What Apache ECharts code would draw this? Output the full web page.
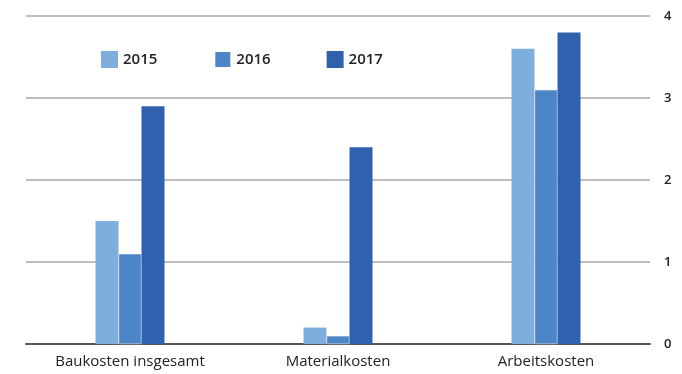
<!DOCTYPE html>
<html>
<head>
<meta charset="utf-8">
<script src="https://cdn.jsdelivr.net/npm/echarts@6/dist/echarts.min.js"></script>
<style>
  html, body { margin: 0; padding: 0; background: #fff; }
  #chart { width: 682px; height: 374px; }
</style>
</head>
<body>
<div id="chart"></div>
<script>
const categories = ['Baukosten insgesamt', 'Materialkosten', 'Arbeitskosten'];
const years = ['2015', '2016', '2017'];
const values2015 = [1.5, 0.2, 3.6];
const values2016 = [1.1, 0.1, 3.1];
const values2017 = [2.9, 2.4, 3.8];
const yTicks = [0, 1, 2, 3, 4];

const colors = ['#7eaede', '#4d86c6', '#2f61ae'];
const font = "'Open Sans', sans-serif";

const chart = echarts.init(document.getElementById('chart'), null, { renderer: 'canvas' });

const seriesData = [values2015, values2016, values2017];

chart.setOption({
    backgroundColor: '#fff',
    animation: false,
    grid: { left: 26, right: 32, top: 16, bottom: 30 },
    legend: {
        data: years,
        left: 96,
        top: 45,
        itemWidth: 17,
        itemHeight: 17,
        itemGap: 56,
        icon: 'rect',
        textStyle: { fontFamily: font, fontSize: 15, color: '#222', fontWeight: 600, width: 40 }
    },
    xAxis: {
        type: 'category',
        data: categories,
        axisLine: { lineStyle: { color: '#555', width: 2 } },
        axisTick: { show: false },
        axisLabel: { fontFamily: font, fontSize: 15, color: '#222', margin: 10 }
    },
    yAxis: {
        type: 'value',
        position: 'right',
        min: yTicks[0],
        max: yTicks[yTicks.length - 1],
        interval: 1,
        axisLine: { show: false },
        axisTick: { show: false },
        axisLabel: { fontFamily: font, fontSize: 13, color: '#222', fontWeight: 600, margin: 14 },
        splitLine: { lineStyle: { color: '#aaa', width: 1.5 } }
    },
    series: years.map((y, i) => ({
        name: y,
        type: 'bar',
        data: seriesData[i],
        barWidth: 23,
        barGap: '0%',
        itemStyle: { color: colors[i], borderColor: '#fff', borderWidth: i === 1 ? 0.5 : 0 }
    }))
});
</script>
</body>
</html>
